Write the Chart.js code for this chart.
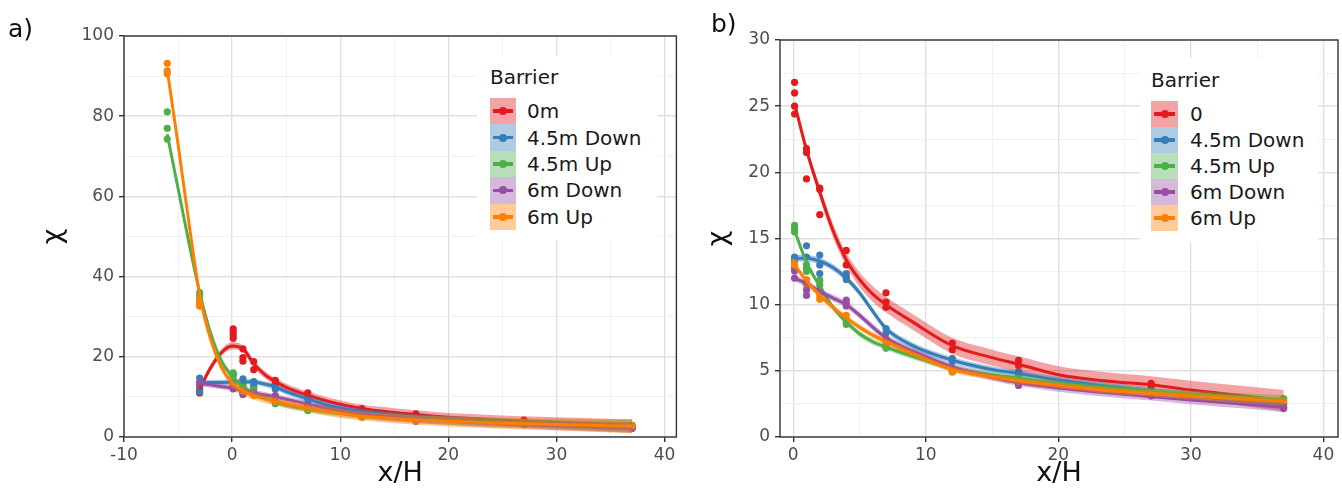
<!DOCTYPE html>
<html><head><meta charset="utf-8">
<script src="https://cdn.jsdelivr.net/npm/chart.js@4.4.1/dist/chart.umd.min.js"></script>
<style>
html,body{margin:0;padding:0;background:#fff;}
#wrap{position:relative;width:1342px;height:500px;overflow:hidden;font-family:'DejaVu Sans',sans-serif;}
canvas{position:absolute;top:0;}
.lab{position:absolute;font-size:25px;color:#111;line-height:30px;}
.legend{position:absolute;background:#fff;}
.lt{position:absolute;font-size:20px;color:#1a1a1a;white-space:nowrap;line-height:22px;}
.key{position:absolute;}
.key .ln{position:absolute;left:3px;right:3px;top:50%;height:3.5px;margin-top:-1.75px;}
.key .dt{position:absolute;left:50%;top:50%;width:8px;height:8px;margin:-4px 0 0 -4px;border-radius:50%;}
</style></head>
<body>
<div id="wrap">
  <canvas id="ca" width="680" height="500" style="left:0px"></canvas>
  <canvas id="cb" width="662" height="500" style="left:680px"></canvas>
  <div class="lab" style="left:8px;top:14px">a)</div>
  <div class="lab" style="left:711px;top:9px">b)</div>
  <div class="legend" id="legA" style="left:477px;top:56px;width:180px;height:184px"></div>
  <div class="legend" id="legB" style="left:1140px;top:58px;width:178px;height:184px"></div>
</div>
<script>
// ---------- shared ----------
const legendTitle = 'Barrier';
const namesA = ['0m', '4.5m Down', '4.5m Up', '6m Down', '6m Up'];
const namesB = ['0', '4.5m Down', '4.5m Up', '6m Down', '6m Up'];
const colors = ['#E41A1C', '#377EB8', '#4DAF4A', '#984EA3', '#FF7F00'];
const xTitle = 'x/H';
const yTitle = 'χ';

// ---------- panel a: measured points ----------
const ptsXA_0m   = [-3,-3,0.1,0.1,0.1,0.1,1,1,1,2,2,4,4,7,7,7,12,12,17,17,27,27,37,37];
const ptsYA_0m   = [11.0,11.8,27.0,26.2,25.4,24.6,22.0,19.8,18.9,18.8,16.8,14.1,13.3,11.0,10.0,9.6,7.1,6.5,5.8,5.2,4.2,3.8,2.9,2.5];
const ptsXA_45D  = [-3,-3,-3,-3,0.1,0.1,0.1,1,1,2,2,2,4,4,7,7,12,12,17,17,27,37,37];
const ptsYA_45D  = [14.7,13.5,12.4,11.3,13.8,13.4,12.5,14.5,13.5,13.8,13.0,12.4,12.3,11.9,8.5,7.9,6.0,5.7,4.9,4.5,3.4,2.3,2.1];
const ptsXA_45U  = [-6,-6,-6,-3,-3,-3,0.1,0.1,0.1,1,1,1,2,2,4,4,7,7,12,12,17,17,27,27,37,37];
const ptsYA_45U  = [81.1,77.0,74.3,36.0,35.0,33.5,16.0,15.6,15.3,13.0,12.6,12.4,11.8,11.1,8.6,8.3,6.8,6.6,5.2,5.0,4.5,4.3,3.5,3.3,2.9,2.7];
const ptsXA_6D   = [-3,-3,0.1,0.1,0.1,1,1,1,2,4,4,7,12,17,27,37];
const ptsYA_6D   = [13.6,13.0,12.7,12.5,12.0,11.5,11.0,10.6,11.0,10.3,10.0,7.4,5.1,3.9,3.1,2.2];
const ptsXA_6U   = [-6,-6,-6,-3,-3,-3,0.1,0.1,1,1,2,2,4,4,7,12,17,27,37];
const ptsYA_6U   = [93.2,91.3,90.6,34.2,33.0,32.6,13.2,13.0,11.9,11.5,10.7,10.4,9.2,8.9,7.1,4.9,4.2,3.3,2.7];

// ---------- panel a: smooth fits ----------
const fitXA = [-6,-5,-4,-3,-2,-1,0,1,2,3,4,5,7,9,12,15,17,20,24,27,30,34,37];
const fitA_0m  = [null,null,null,12.0,17.2,21.0,22.7,22.0,18.3,15.6,13.8,12.4,10.4,8.8,7.1,6.1,5.6,4.9,4.3,3.95,3.6,3.2,2.9];
const seA_0m   = [null,null,null,0.9,0.9,0.9,0.9,0.9,0.9,0.9,0.9,0.9,1.0,1.0,1.0,1.1,1.1,1.1,1.2,1.2,1.3,1.4,1.5];
const fitA_45D = [null,null,null,13.6,13.6,13.6,13.7,13.8,13.7,13.2,12.5,11.3,9.5,7.8,6.3,5.3,4.9,4.4,3.8,3.45,3.1,2.7,2.45];
const seA_45D  = [null,null,null,0.8,0.7,0.7,0.7,0.7,0.7,0.7,0.7,0.7,0.8,0.8,0.8,0.9,0.9,0.9,1.0,1.0,1.1,1.2,1.3];
const fitA_45U = [75.5,62.0,48.5,36.0,26.0,19.0,15.2,12.5,11.0,9.8,8.8,8.0,7.0,6.2,5.3,4.7,4.45,4.05,3.7,3.45,3.25,3.0,2.85];
const seA_45U  = [1.4,1.2,1.0,0.9,0.8,0.8,0.8,0.8,0.8,0.8,0.8,0.8,0.8,0.8,0.9,0.9,1.0,1.0,1.1,1.1,1.2,1.3,1.4];
const fitA_6D  = [null,null,null,13.4,13.0,12.6,12.2,11.5,11.0,10.5,10.0,9.4,8.2,7.0,5.6,4.8,4.4,3.9,3.4,3.1,2.8,2.5,2.3];
const seA_6D   = [null,null,null,0.8,0.7,0.7,0.7,0.7,0.7,0.7,0.7,0.7,0.8,0.8,0.8,0.9,0.9,0.9,1.0,1.0,1.1,1.2,1.3];
const fitA_6U  = [91.5,73.0,53.5,35.5,24.5,17.5,13.5,11.5,10.3,9.5,8.9,8.3,7.2,6.3,5.2,4.6,4.25,3.9,3.5,3.3,3.1,2.85,2.7];
const seA_6U   = [1.6,1.4,1.2,1.0,1.0,1.0,1.0,1.0,1.0,1.0,1.0,1.0,1.0,1.1,1.1,1.2,1.2,1.3,1.4,1.4,1.5,1.6,1.8];

// ---------- panel b: measured points ----------
const ptsXB_0   = [0.1,0.1,0.1,0.1,1,1,1,2,2,2,4,4,4,7,7,7,12,12,17,17,27,27,37];
const ptsYB_0   = [26.8,26.0,25.0,24.4,21.8,21.5,19.5,18.8,18.7,16.8,14.1,13.0,12.1,10.9,10.2,9.8,7.1,6.6,5.8,5.4,4.05,3.8,2.5];
const ptsXB_45D = [0.1,0.1,1,1,2,2,2,4,4,7,7,12,12,17,17,27,37];
const ptsYB_45D = [13.6,13.4,14.45,13.6,13.75,13.0,12.35,12.35,11.9,8.2,7.85,5.95,5.7,4.95,4.7,3.35,2.25];
const ptsXB_45U = [0.1,0.1,0.1,1,1,1,2,2,2,4,4,7,7,12,12,17,17,27,27,37,37];
const ptsYB_45U = [16.0,15.7,15.5,13.0,12.7,12.5,11.85,11.5,11.1,8.7,8.5,6.8,6.7,5.2,5.05,4.45,4.3,3.45,3.3,2.9,2.8];
const ptsXB_6D  = [0.1,0.1,0.1,1,1,1,2,2,4,4,4,7,7,12,12,17,17,27,37];
const ptsYB_6D  = [12.75,12.55,12.0,11.5,11.1,10.7,11.1,10.9,10.35,10.1,9.9,7.4,7.3,5.1,4.95,4.0,3.9,3.1,2.15];
const ptsXB_6U  = [0.1,0.1,1,1,2,2,4,4,7,7,12,12,17,27,37];
const ptsYB_6U  = [13.2,13.0,11.9,11.6,10.7,10.4,9.2,8.95,7.1,6.9,5.0,4.9,4.2,3.3,2.7];

// ---------- panel b: smooth fits ----------
const fitXB = [0.1,1,2,3,4,5,6,7,9,12,15,17,20,24,27,30,34,37];
const fitB_0   = [25.2,21.7,18.5,15.6,13.4,11.9,10.8,10.0,8.7,6.9,6.0,5.5,4.7,4.2,3.95,3.55,3.1,2.75];
const seB_0    = [0.4,0.4,0.45,0.5,0.5,0.55,0.6,0.6,0.6,0.6,0.6,0.6,0.65,0.65,0.65,0.7,0.75,0.8];
const fitB_45D = [13.5,13.5,13.3,12.8,12.0,10.9,9.5,8.2,6.9,5.8,5.1,4.8,4.3,3.8,3.45,3.1,2.7,2.45];
const seB_45D  = [0.25,0.25,0.25,0.25,0.25,0.25,0.25,0.25,0.25,0.25,0.25,0.25,0.25,0.28,0.3,0.3,0.33,0.35];
const fitB_45U = [15.6,13.2,11.4,9.8,8.7,7.8,7.2,6.8,6.1,5.2,4.7,4.45,4.05,3.7,3.45,3.25,3.0,2.85];
const seB_45U  = [0.25,0.25,0.25,0.22,0.22,0.22,0.22,0.22,0.22,0.22,0.22,0.22,0.22,0.25,0.25,0.27,0.3,0.32];
const fitB_6D  = [12.0,11.6,11.0,10.5,10.0,9.2,8.3,7.5,6.5,5.3,4.5,4.1,3.7,3.3,3.05,2.8,2.5,2.25];
const seB_6D   = [0.25,0.25,0.25,0.25,0.25,0.25,0.25,0.25,0.25,0.25,0.25,0.25,0.28,0.3,0.3,0.32,0.35,0.38];
const fitB_6U  = [13.0,11.8,10.7,9.8,9.0,8.3,7.7,7.2,6.3,5.1,4.55,4.25,3.9,3.5,3.3,3.1,2.85,2.7];
const seB_6U   = [0.22,0.22,0.22,0.22,0.22,0.22,0.22,0.22,0.22,0.22,0.22,0.22,0.22,0.25,0.25,0.27,0.3,0.32];

// ---------- axis ticks ----------
const xTicksA = [-10,0,10,20,30,40];
const yTicksA = [0,20,40,60,80,100];
const xTicksB = [0,10,20,30,40];
const yTicksB = [0,5,10,15,20,25,30];

// ---------- helpers ----------
function rgba(hex, a) {
  const n = parseInt(hex.slice(1), 16);
  return `rgba(${(n>>16)&255},${(n>>8)&255},${n&255},${a})`;
}
function buildDatasets(ptsX, ptsY, fitX, fits, ses) {
  const ds = [];
  ptsX.forEach((xs, i) => {
    ds.push({
      label: 'pts' + i, data: xs.map((x, j) => ({x, y: ptsY[i][j]})),
      showLine: false, pointRadius: 3.6, pointHoverRadius: 3.6,
      pointBackgroundColor: colors[i], pointBorderWidth: 0, borderWidth: 0,
      order: 500 - i
    });
  });
  fits.forEach((f, i) => {
    const lo = [], hi = [], mid = [];
    fitX.forEach((x, j) => {
      if (f[j] == null) return;
      lo.push({x, y: f[j] - ses[i][j]});
      hi.push({x, y: f[j] + ses[i][j]});
      mid.push({x, y: f[j]});
    });
    const loIdx = ds.length;
    const common = {pointRadius: 0, cubicInterpolationMode: 'monotone'};
    ds.push(Object.assign({label: 'lo' + i, data: lo, borderWidth: 0, borderColor: 'rgba(0,0,0,0)', fill: false, order: 100 - 10 * i}, common));
    ds.push(Object.assign({label: 'hi' + i, data: hi, borderWidth: 0, borderColor: 'rgba(0,0,0,0)', fill: loIdx, backgroundColor: rgba(colors[i], 0.4), order: 100 - 10 * i - 1}, common));
    ds.push(Object.assign({label: 'fit' + i, data: mid, borderWidth: 3, borderColor: colors[i], fill: false, order: 100 - 10 * i - 2}, common));
  });
  return ds;
}
const borderPlugin = {
  id: 'panelBorder',
  afterDraw(chart) {
    const {ctx, chartArea: a} = chart;
    ctx.save();
    ctx.strokeStyle = '#333333';
    ctx.lineWidth = 1.4;
    ctx.strokeRect(a.left, a.top, a.right - a.left, a.bottom - a.top);
    ctx.restore();
  }
};
function axis(min, max, majors, minorStep, isX, title, fixedSize, titlePad) {
  const all = [];
  for (let v = majors[0]; v <= majors[majors.length - 1] + 1e-9; v += minorStep) all.push(+v.toFixed(4));
  const isMajor = v => majors.some(m => Math.abs(m - v) < 1e-6);
  return {
    type: 'linear', min, max,
    afterBuildTicks: s => { s.ticks = all.map(v => ({value: v})); },
    afterFit: s => { if (isX) s.height = fixedSize; else s.width = fixedSize; },
    grid: {
      color: c => (c.tick && isMajor(c.tick.value)) ? '#E0E0E0' : '#EEEEEE',
      lineWidth: c => (c.tick && isMajor(c.tick.value)) ? 1.4 : 0.8,
      tickColor: c => (c.tick && isMajor(c.tick.value)) ? '#333333' : 'rgba(0,0,0,0)',
      tickLength: 5, drawTicks: true
    },
    border: {display: false},
    ticks: {
      autoSkip: false, maxRotation: 0, padding: isX ? 3 : 5,
      color: '#4D4D4D', font: {family: 'DejaVu Sans', size: 17},
      callback: v => isMajor(v) ? String(v) : ''
    },
    title: {
      display: true, text: title, color: '#111',
      font: {family: 'DejaVu Sans', size: 27}, padding: titlePad
    }
  };
}
function makeChart(id, datasets, xs, ys, pad) {
  return new Chart(document.getElementById(id), {
    type: 'line',
    data: {datasets},
    options: {
      responsive: false, animation: false, devicePixelRatio: 1,
      layout: {padding: pad},
      plugins: {legend: {display: false}, tooltip: {enabled: false}},
      scales: {x: xs, y: ys},
      events: []
    },
    plugins: [borderPlugin]
  });
}

// ---------- panel a ----------
makeChart('ca',
  buildDatasets([ptsXA_0m, ptsXA_45D, ptsXA_45U, ptsXA_6D, ptsXA_6U],
                [ptsYA_0m, ptsYA_45D, ptsYA_45U, ptsYA_6D, ptsYA_6U],
                fitXA, [fitA_0m, fitA_45D, fitA_45U, fitA_6D, fitA_6U],
                [seA_0m, seA_45D, seA_45U, seA_6D, seA_6U]),
  axis(-10, 41.1, xTicksA, 5, true, xTitle, 63, {top: 0, bottom: 10}),
  axis(0, 100, yTicksA, 10, false, yTitle, 124, {top: 38, bottom: 0}),
  {left: 0, right: 2, top: 36, bottom: 0});

// ---------- panel b ----------
makeChart('cb',
  buildDatasets([ptsXB_0, ptsXB_45D, ptsXB_45U, ptsXB_6D, ptsXB_6U],
                [ptsYB_0, ptsYB_45D, ptsYB_45U, ptsYB_6D, ptsYB_6U],
                fitXB, [fitB_0, fitB_45D, fitB_45U, fitB_6D, fitB_6U],
                [seB_0, seB_45D, seB_45U, seB_6D, seB_6U]),
  axis(-1, 41.1, xTicksB, 5, true, xTitle, 63, {top: 0, bottom: 10}),
  axis(0, 30, yTicksB, 2.5, false, yTitle, 100, {top: 23, bottom: 0}),
  {left: 0, right: 4, top: 40, bottom: 0});

// ---------- legends ----------
function buildLegend(id, names, keyLeft, keyTop, keyW, keyH, labelLeft) {
  const el = document.getElementById(id);
  const t = document.createElement('div');
  t.className = 'lt'; t.textContent = legendTitle;
  t.style.left = keyLeft + 'px'; t.style.top = (keyTop - 32) + 'px';
  el.appendChild(t);
  names.forEach((n, i) => {
    const k = document.createElement('div');
    k.className = 'key';
    Object.assign(k.style, {left: keyLeft + 'px', top: (keyTop + i * keyH) + 'px', width: keyW + 'px', height: keyH + 'px', background: rgba(colors[i], 0.4)});
    const ln = document.createElement('div'); ln.className = 'ln'; ln.style.background = colors[i];
    const dt = document.createElement('div'); dt.className = 'dt'; dt.style.background = colors[i];
    k.appendChild(ln); k.appendChild(dt); el.appendChild(k);
    const l = document.createElement('div');
    l.className = 'lt'; l.textContent = n;
    l.style.left = labelLeft + 'px'; l.style.top = (keyTop + i * keyH + keyH / 2 - 11) + 'px';
    el.appendChild(l);
  });
}
buildLegend('legA', namesA, 13, 42, 26, 26.4, 50);
buildLegend('legB', namesB, 11, 43, 27, 26, 50);
</script>
</body></html>
